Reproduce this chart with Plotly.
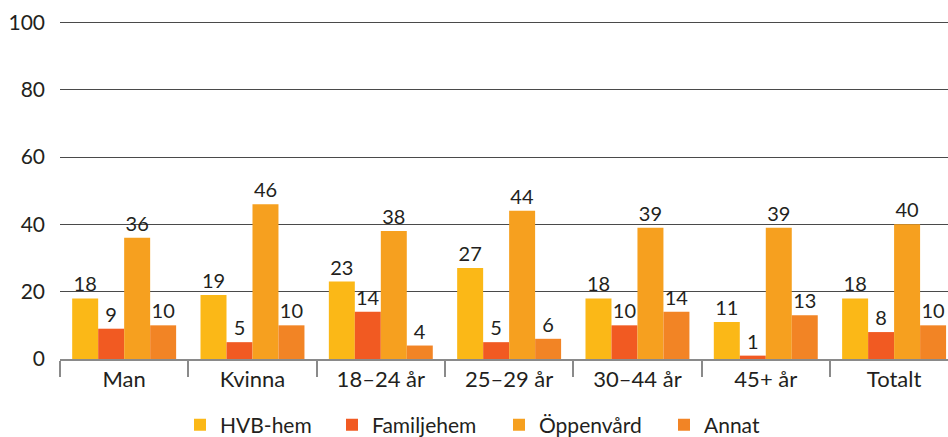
import plotly.graph_objects as go

categories = ["Man", "Kvinna", "18–24 år", "25–29 år", "30–44 år", "45+ år", "Totalt"]
hvb = [18, 19, 23, 27, 18, 11, 18]
familjehem = [9, 5, 14, 5, 10, 1, 8]
oppenvard = [36, 46, 38, 44, 39, 39, 40]
annat = [10, 10, 4, 6, 14, 13, 10]
series_names = ["HVB-hem", "Familjehem", "Öppenvård", "Annat"]
y_ticks = [0, 20, 40, 60, 80, 100]

colors = ["#FBB817", "#F15A22", "#F6A01F", "#F28425"]
legend_left_px = [180, 332, 499, 664]
font_family = "Lato, 'Open Sans', sans-serif"
text_color = "#231F20"
W, H = 948, 437

fig = go.Figure()
legend_ids = ["legend", "legend2", "legend3", "legend4"]
for name, vals, col, lid in zip(series_names, [hvb, familjehem, oppenvard, annat], colors, legend_ids):
    fig.add_trace(go.Bar(
        x=categories, y=vals, name=name, marker=dict(color=col, line=dict(width=0)),
        text=[str(v) for v in vals], textposition="outside",
        textfont=dict(size=20, color=text_color, family=font_family),
        cliponaxis=False, legend=lid,
    ))

legend_layout = {}
for lid, lx in zip(legend_ids, legend_left_px):
    legend_layout[lid] = dict(orientation="h", xref="container", x=lx / W, xanchor="left",
                              yref="container", y=1 - 425 / H, yanchor="middle",
                              font=dict(size=21, color=text_color, family=font_family),
                              itemwidth=30, bgcolor="rgba(0,0,0,0)")

fig.update_layout(
    width=W, height=H,
    margin=dict(l=60, r=0, t=21, b=78),
    barmode="group", bargap=0.19, bargroupgap=0,
    plot_bgcolor="white", paper_bgcolor="white",
    font=dict(family=font_family, color=text_color),
    showlegend=True,
    **legend_layout,
)
fig.update_yaxes(range=[0, 100.4], tickvals=y_ticks, showgrid=True, gridcolor="#4a4a4a", gridwidth=1.4,
                 zeroline=False, showline=False, ticks="", ticklabelstandoff=14, automargin=False,
                 tickfont=dict(size=21, color=text_color, family=font_family))
fig.update_xaxes(range=[-0.5, 6.42], showline=True, linecolor="#8a8a8a", linewidth=1.5, ticks="outside",
                 tickson="boundaries", ticklen=16, tickcolor="#8a8a8a", tickwidth=1.5, automargin=False,
                 tickfont=dict(size=22, color=text_color, family=font_family))

fig.write_html("out.html", config={"displayModeBar": False},
               post_script="document.body.style.margin='0';document.body.style.overflow='hidden';")
